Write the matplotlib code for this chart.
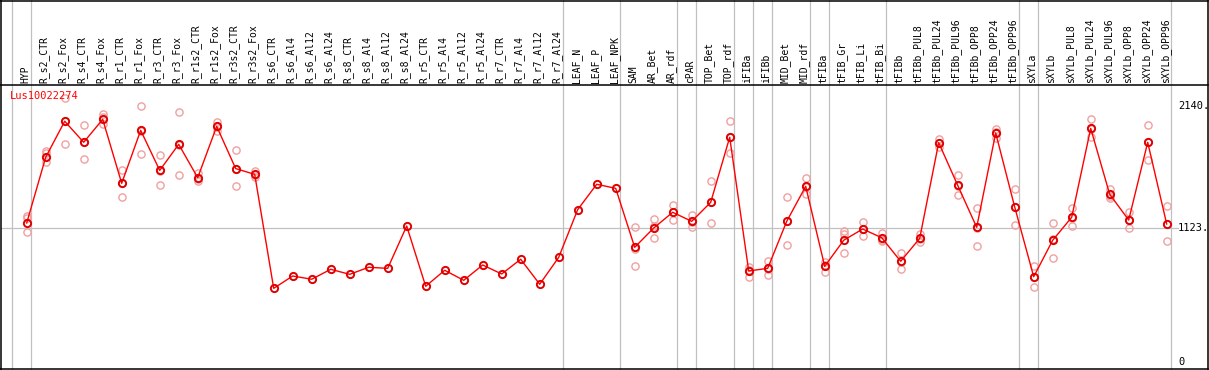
import matplotlib
matplotlib.use('Agg')
import matplotlib.pyplot as plt
from matplotlib.lines import Line2D
import numpy as np

plt.rcParams['font.family'] = 'DejaVu Sans Mono'
plt.rcParams['font.size'] = 7

# categories (tissue / condition)
samples = ['HYP', 'R_s2_CTR', 'R_s2_Fox', 'R_s4_CTR', 'R_s4_Fox', 'R_r1_CTR', 'R_r1_Fox',
           'R_r3_CTR', 'R_r3_Fox', 'R_r1s2_CTR', 'R_r1s2_Fox', 'R_r3s2_CTR', 'R_r3s2_Fox',
           'R_s6_CTR', 'R_s6_Al4', 'R_s6_Al12', 'R_s6_Al24', 'R_s8_CTR', 'R_s8_Al4',
           'R_s8_Al12', 'R_s8_Al24', 'R_r5_CTR', 'R_r5_Al4', 'R_r5_Al12', 'R_r5_Al24',
           'R_r7_CTR', 'R_r7_Al4', 'R_r7_Al12', 'R_r7_Al24', 'LEAF_N', 'LEAF_P', 'LEAF_NPK',
           'SAM', 'AR_Bet', 'AR_rdf', 'cPAR', 'TOP_Bet', 'TOP_rdf', 'iFIBa', 'iFIBb',
           'MID_Bet', 'MID_rdf', 'tFIBa', 'tFIB_Gr', 'tFIB_Li', 'tFIB_Bi', 'tFIBb',
           'tFIBb_PUL8', 'tFIBb_PUL24', 'tFIBb_PUL96', 'tFIBb_OPP8', 'tFIBb_OPP24',
           'tFIBb_OPP96', 'sXYLa', 'sXYLb', 'sXYLb_PUL8', 'sXYLb_PUL24', 'sXYLb_PUL96',
           'sXYLb_OPP8', 'sXYLb_OPP24', 'sXYLb_OPP96']

# mean expression
mean_expr = [1162, 1712, 2013, 1837, 2029, 1494, 1937, 1602, 1820, 1541, 1970, 1617, 1569,
             616, 719, 692, 775, 733, 792, 783, 1137, 633, 767, 683, 811, 736, 859, 650, 875,
             1274, 1486, 1452,
             959, 1120, 1252, 1176, 1335, 1879, 761, 783, 1176, 1469, 800, 1018, 1112, 1039, 842,
             1034, 1834, 1477, 1126, 1915, 1296,
             713, 1018, 1210, 1953, 1402, 1187, 1837, 1154]

nan = np.nan
# replicates (nan where no replicate shown)
rep1 = [1221, 1764, 2205, 1979, 2074, 1605, 2141, 1728, 2088, 1578, 2010, 1770, 1597,
        nan, nan, nan, nan, nan, nan, nan, nan, nan, nan, nan, nan, nan, nan, nan, nan,
        nan, nan, nan,
        1126, 1193, 1313, 1229, 1511, 2013, 797, 845, 1377, 1536, 839, 1095, 1168, 1081, 909,
        1068, 1867, 1564, 1285, 1948, 1447,
        803, 1160, 1288, 2032, 1444, 1257, 1982, 1302]
rep2 = [1201, 1745, 2014, 1837, 2050, 1500, 1933, 1601, 1811, 1529, 1968, 1612, 1560,
        nan, nan, nan, nan, nan, nan, nan, nan, nan, nan, nan, nan, nan, nan, nan, nan,
        nan, nan, nan,
        942, 1133, 1253, 1167, 1334, 1879, 773, 779, 1175, 1466, 811, 1068, 1112, 1024, 839,
        1028, 1835, 1473, 1123, 1921, 1295,
        711, 1027, 1207, 1946, 1388, 1186, 1840, 1151]
rep3 = [1085, 1670, 1820, 1695, 1988, 1377, 1737, 1477, 1561, 1516, 1932, 1469, 1550,
        nan, nan, nan, nan, nan, nan, nan, nan, nan, nan, nan, nan, nan, nan, nan, nan,
        nan, nan, nan,
        800, 1034, 1190, 1132, 1160, 1745, 713, 725, 976, 1405, 750, 909, 1056, 1012, 778,
        1006, 1800, 1394, 970, 1876, 1146,
        625, 867, 1135, 1881, 1374, 1118, 1689, 1009]

# group separators: gridline drawn just after these category indices
sep_after = [-1, 0, 28, 31, 34, 35, 37, 38, 39, 41, 42, 45, 52, 53, 60]
y_ticks = [2140, 1123, 0]
gene = 'Lus10022274'

W, H = 1209, 370
fig = plt.figure(figsize=(W / 100, H / 100), dpi=100)
fig.patch.set_facecolor('white')

# data area in pixels
left_px, right_px, top_px, bot_px = 1, 1172, 85, 369
ax = fig.add_axes([left_px / W, (H - bot_px) / H, (right_px - left_px) / W, (bot_px - top_px) / H])
ax.set_xlim((left_px - 26.7) / 19, (right_px - 26.7) / 19)
ax.set_ylim(-58.5, 2316)
ax.axis('off')

grey = '#c0c0c0'
top_frac = bot_px / (bot_px - top_px)
for s in sep_after:
    ax.axvline(s + 0.21, ymin=0, ymax=top_frac, color=grey, lw=0.9, clip_on=False, zorder=0)
ax.axhline(1123, xmin=0, xmax=(1178 - left_px) / (right_px - left_px), color=grey, lw=0.9,
           clip_on=False, zorder=0)

x = np.arange(len(samples))
rep_col = '#f0a0a0'
for r in (rep1, rep2, rep3):
    ax.plot(x, r, ls='none', marker='o', ms=5.2, mfc='none', mec=rep_col, mew=1.0, zorder=2)
ax.plot(x, mean_expr, color='red', lw=1.0, marker='o', ms=5.2, mfc='none', mec='#e00000',
        mew=1.4, zorder=3)

# category labels
for i, name in enumerate(samples):
    ax.text(i - 0.08, 1.007, name, rotation=90, ha='center', va='bottom',
            transform=ax.get_xaxis_transform(), fontsize=7, clip_on=False)

# right-side value labels
for v in y_ticks:
    lab = '0' if v == 0 else f'{v}.'
    ax.text((1178 - left_px) / (right_px - left_px), v, lab, ha='left', va='center',
            transform=ax.get_yaxis_transform(), fontsize=7.5, clip_on=False)

ax.text((10 - left_px) / (right_px - left_px), (bot_px - 96) / (bot_px - top_px),
        gene, color='red', ha='left', va='center', transform=ax.transAxes, fontsize=7.5)

# frame lines (pixel coords -> figure fraction)
def hline(y, x0, x1, lw=1.1):
    fig.add_artist(Line2D([x0 / W, x1 / W], [1 - y / H, 1 - y / H], color='black', lw=lw,
                          transform=fig.transFigure))

def vline(xp, y0, y1, lw=1.1):
    fig.add_artist(Line2D([xp / W, xp / W], [1 - y0 / H, 1 - y1 / H], color='black', lw=lw,
                          transform=fig.transFigure))

hline(0.5, 0, 1208)
hline(85, 0, 1208)
hline(369, 0, 1208)
vline(0.6, 0, 370)
vline(1207.5, 0, 370)

fig.savefig('out.png', dpi=100, facecolor='white')
